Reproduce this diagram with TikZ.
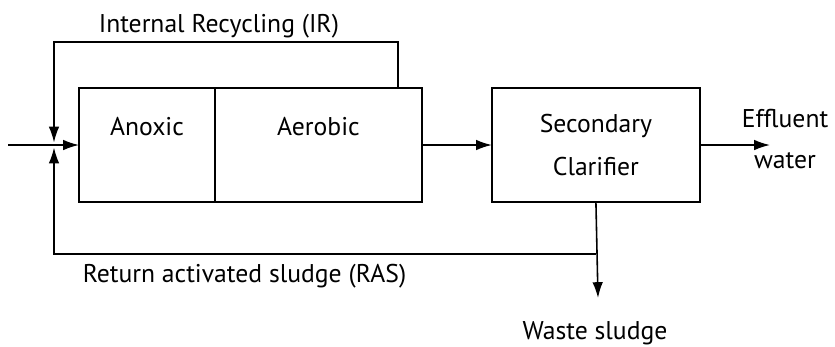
\documentclass[tikz,border=0pt]{standalone}
\usepackage{fontspec}
\setmainfont{PT Sans}
\usetikzlibrary{positioning}
\usetikzlibrary{arrows.meta}

\begin{document}
\begin{tikzpicture}[x=0.02cm,y=-0.02cm,line width=0.9pt,
		flow/.style={-{Latex[length=9pt,width=6pt]}},
		every node/.style={font=\fontsize{14.6}{16}\selectfont},
		tank/.style={draw,inner sep=0pt,outer sep=0pt,minimum height=2.28cm,text height=0.94cm,text depth=1.34cm},
		settler/.style={draw,inner sep=0pt,outer sep=0pt,minimum height=2.28cm,minimum width=4.16cm,align=center,font=\fontsize{14.6}{25}\selectfont},
		lbl/.style={inner sep=0pt}]
		\useasboundingbox (0,0) rectangle (835,346);
		\node[tank,minimum width=2.72cm] (anoxic) at (147,145) {Anoxic};
		\node[tank,minimum width=4.14cm,right=0pt of anoxic] (aerobic) {Aerobic};
		\node[settler,right=1.4cm of aerobic] (clarifier) {Secondary\\Clarifier};
		\coordinate (feed) at (8,145);
		\coordinate (mix) at (54,145);
		\coordinate (irtop) at (398,42);
		\coordinate (ras) at (54,254);
		\coordinate (effl) at (770,145);
		\coordinate (wastetip) at (598,298);
		\draw[flow] (feed) -- (anoxic.west);
		\draw[flow] (aerobic.north -| irtop) -- (irtop) -| ([yshift=0.05cm]mix);
		\draw[flow] (clarifier.south |- ras) -- (ras) -- ([yshift=-0.05cm]mix);
		\draw[flow] (aerobic.east) -- (clarifier.west);
		\draw[flow] (clarifier.east) -- (effl);
		\draw[flow] (clarifier.south) -- (wastetip);
		\node[lbl,anchor=base west] (irlabel) at (98,32) {Internal Recycling (IR)};
		\node[lbl,anchor=base west] (raslabel) at (82,282) {Return activated sludge (RAS)};
		\node[lbl,anchor=base] (wastelabel) at (595,339) {Waste sludge};
		\node[lbl,align=center,font=\fontsize{14.6}{22.8}\selectfont] (effllabel) at (785,139) {Effluent\\water};
		\end{tikzpicture}
\end{document}
